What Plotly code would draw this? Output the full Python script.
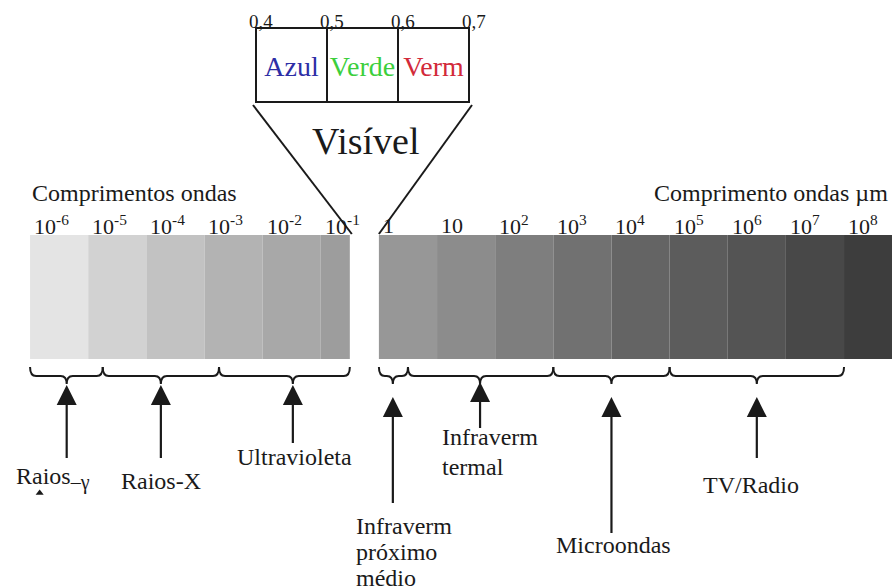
import plotly.graph_objects as go

FONT = 'Liberation Serif'
INK = '#1a1a1a'

# wavelength scale, in powers of ten of a micrometre
TICK_EXP = [-6, -5, -4, -3, -2, -1, 0, 1, 2, 3, 4, 5, 6, 7, 8]
TICK_TEXT = ['10<sup>-6</sup>', '10<sup>-5</sup>', '10<sup>-4</sup>', '10<sup>-3</sup>',
             '10<sup>-2</sup>', '10<sup>-1</sup>', '1', '10', '10<sup>2</sup>',
             '10<sup>3</sup>', '10<sup>4</sup>', '10<sup>5</sup>', '10<sup>6</sup>',
             '10<sup>7</sup>', '10<sup>8</sup>']
SEG_COLORS = ['#e4e4e4', '#d2d2d2', '#c2c2c2', '#b3b3b3', '#a8a8a8', '#9d9d9d',
              '#979797', '#8c8c8c', '#7e7e7e', '#717171', '#646464', '#5c5c5c',
              '#545454', '#484848', '#3d3d3d']
LEFT_BAR_END = -0.5   # bar is broken where the visible band sits
RIGHT_BAR_END = 9

# spectral bands (exponents of the wavelength in µm)
BAND_NAMES = ['Raios<sub><span style="font-size:20px">–γ</span></sub>', 'Raios-X',
              'Ultravioleta', 'Infraverm<br>próximo<br>médio', 'Infraverm<br>termal',
              'Microondas', 'TV/Radio']
BAND_LO = [-6, -4.75, -2.75, 0, 0.5, 3, 5]
BAND_HI = [-4.75, -2.75, -0.5, 0.5, 3, 5, 8]
BAND_PEAK = [-5.37, -3.75, -1.48, 0.24, 1.74, 4.0, 6.5]

# visible detail, µm
VIS_EDGES = [0.4, 0.5, 0.6, 0.7]
VIS_EDGE_TEXT = ['0,4', '0,5', '0,6', '0,7']
VIS_NAMES = ['Azul', 'Verde', 'Verm']
VIS_COLORS = ['#2e2ea6', '#3ccf3c', '#d22a3a']

# ---- layout constants (page pixels) ----
W, H = 892, 588
PX_DECADE = 58.14
PX_ONE_UM = 378.9
INSET_L, INSET_R = 256, 469
BAR_TOP, BAR_BOTTOM = 235, 359
BOX_TOP, BOX_BOTTOM = 28, 102
Y0, Y1, Y2 = 367, 376, 384  # brace ends, spine, tip

ARROW_TIP = [385, 385, 385, 397, 382, 397, 397]
STEM_END = [458, 458, 443, 503, 428, 533, 458]
LABEL_STYLE = [  # xanchor, xshift, y of first line, line gap
    ('left', -53, 478, 0), ('center', 0, 481, 0), ('center', 2, 457, 0),
    ('left', -39, 526, 26), ('left', -40, 437, 30), ('center', 2, 545, 0),
    ('center', -6, 485, 0),
]


def px_to_x(px):
    return (px - PX_ONE_UM) / PX_DECADE


vis_scale = (INSET_R - INSET_L) / (VIS_EDGES[-1] - VIS_EDGES[0])


def px_to_vis(px):
    return VIS_EDGES[0] + (px - INSET_L) / vis_scale


def vis_to_x(v):
    return px_to_x(INSET_L + (v - VIS_EDGES[0]) * vis_scale)


def brace_path(a, c, b):
    u = 6 / PX_DECADE
    return (f'M{a},{Y0} Q{a},{Y1} {a + u},{Y1} L{c - u},{Y1} Q{c},{Y1} {c},{Y2} '
            f'Q{c},{Y1} {c + u},{Y1} L{b - u},{Y1} Q{b},{Y1} {b},{Y0}')


fig = go.Figure()
shapes = []
annotations = []

# grey bar segments
for k, color in zip(TICK_EXP, SEG_COLORS):
    x1 = LEFT_BAR_END if k == -1 else (RIGHT_BAR_END if k == 8 else k + 1)
    shapes.append(dict(type='rect', xref='x', yref='y', x0=k, x1=x1,
                       y0=BAR_TOP, y1=BAR_BOTTOM, fillcolor=color,
                       line_width=0, layer='below'))

for k, text in zip(TICK_EXP, TICK_TEXT):
    annotations.append(dict(x=k, y=225, xref='x', yref='y', text=text,
                            showarrow=False, xanchor='left', yanchor='middle',
                            xshift=2))

annotations.append(dict(x=TICK_EXP[0], y=193, xref='x', yref='y',
                        text='Comprimentos ondas', showarrow=False,
                        xanchor='left', yanchor='middle', font=dict(size=24)))
annotations.append(dict(x=1, y=193, xref='paper', yref='y',
                        text='Comprimento ondas µm', showarrow=False,
                        xanchor='right', yanchor='middle', xshift=-2,
                        font=dict(size=24)))

# braces, arrows and band names
for lo, hi, pk in zip(BAND_LO, BAND_HI, BAND_PEAK):
    shapes.append(dict(type='path', xref='x', yref='y', path=brace_path(lo, pk, hi),
                       line=dict(color=INK, width=2)))

stem_x, stem_y = [], []
for pk, tip, end in zip(BAND_PEAK, ARROW_TIP, STEM_END):
    stem_x += [pk, pk, None]
    stem_y += [tip + 10, end, None]
fig.add_trace(go.Scatter(x=stem_x, y=stem_y, mode='lines',
                         line=dict(color=INK, width=2.2), hoverinfo='skip'))
fig.add_trace(go.Scatter(x=BAND_PEAK, y=ARROW_TIP, mode='markers',
                         marker=dict(symbol='arrow-up', size=20, color=INK,
                                     line_width=0), hoverinfo='skip'))
# stray little mark under "Raios"
fig.add_trace(go.Scatter(x=[BAND_PEAK[0] - 27 / PX_DECADE], y=[493], mode='markers',
                         marker=dict(symbol='triangle-up', size=7, color=INK,
                                     line_width=0), hoverinfo='skip'))

for name, pk, (anchor, dx, y, gap) in zip(BAND_NAMES, BAND_PEAK, LABEL_STYLE):
    for i, line in enumerate(name.split('<br>')):
        annotations.append(dict(x=pk, y=y + i * gap, xref='x', yref='y', text=line,
                                showarrow=False, xanchor=anchor, yanchor='middle',
                                xshift=dx, font=dict(size=24)))

# visible inset
for v0, v1 in zip(VIS_EDGES[:-1], VIS_EDGES[1:]):
    shapes.append(dict(type='rect', xref='x2', yref='y', x0=v0, x1=v1,
                       y0=BOX_TOP, y1=BOX_BOTTOM, line=dict(color=INK, width=2)))
for v, text in zip(VIS_EDGES, VIS_EDGE_TEXT):
    annotations.append(dict(x=v, y=21, xref='x2', yref='y', text=text,
                            showarrow=False, xanchor='left', yanchor='middle',
                            xshift=-9, font=dict(size=19)))

mids = [(a + b) / 2 for a, b in zip(VIS_EDGES[:-1], VIS_EDGES[1:])]
fig.add_trace(go.Scatter(x=mids, y=[69] * len(mids), xaxis='x2', mode='text',
                         text=VIS_NAMES, textposition='middle center',
                         textfont=dict(family=FONT, size=28, color=VIS_COLORS),
                         hoverinfo='skip'))
annotations.append(dict(x=sum(VIS_EDGES[1:3]) / 2, y=141, xref='x2', yref='y',
                        text='Visível', showarrow=False, xanchor='center',
                        yanchor='middle', xshift=3, font=dict(size=38)))

# funnel from the inset down to the break in the bar
fig.add_trace(go.Scatter(
    x=[vis_to_x(VIS_EDGES[0]) - 3 / PX_DECADE, LEFT_BAR_END + 2 / PX_DECADE, None,
       vis_to_x(VIS_EDGES[-1]) + 3 / PX_DECADE, 0],
    y=[105, 234, None, 105, 234],
    mode='lines', line=dict(color=INK, width=2), hoverinfo='skip'))

fig.update_layout(
    width=W, height=H,
    margin=dict(l=0, r=0, t=0, b=0),
    paper_bgcolor='white', plot_bgcolor='white',
    font=dict(family=FONT, size=22, color=INK),
    showlegend=False, hovermode=False,
    xaxis=dict(range=[px_to_x(0), px_to_x(W)], visible=False, fixedrange=True),
    xaxis2=dict(range=[px_to_vis(0), px_to_vis(W)], overlaying='x',
                visible=False, fixedrange=True),
    yaxis=dict(range=[H, 0], visible=False, fixedrange=True),
    shapes=shapes, annotations=annotations,
)

# drop the page's default body margin so the figure sits flush in the window
fig.write_html('out.html', config={'displayModeBar': False},
               post_script="document.body.style.margin='0';"
                           "document.documentElement.style.overflow='hidden';")
